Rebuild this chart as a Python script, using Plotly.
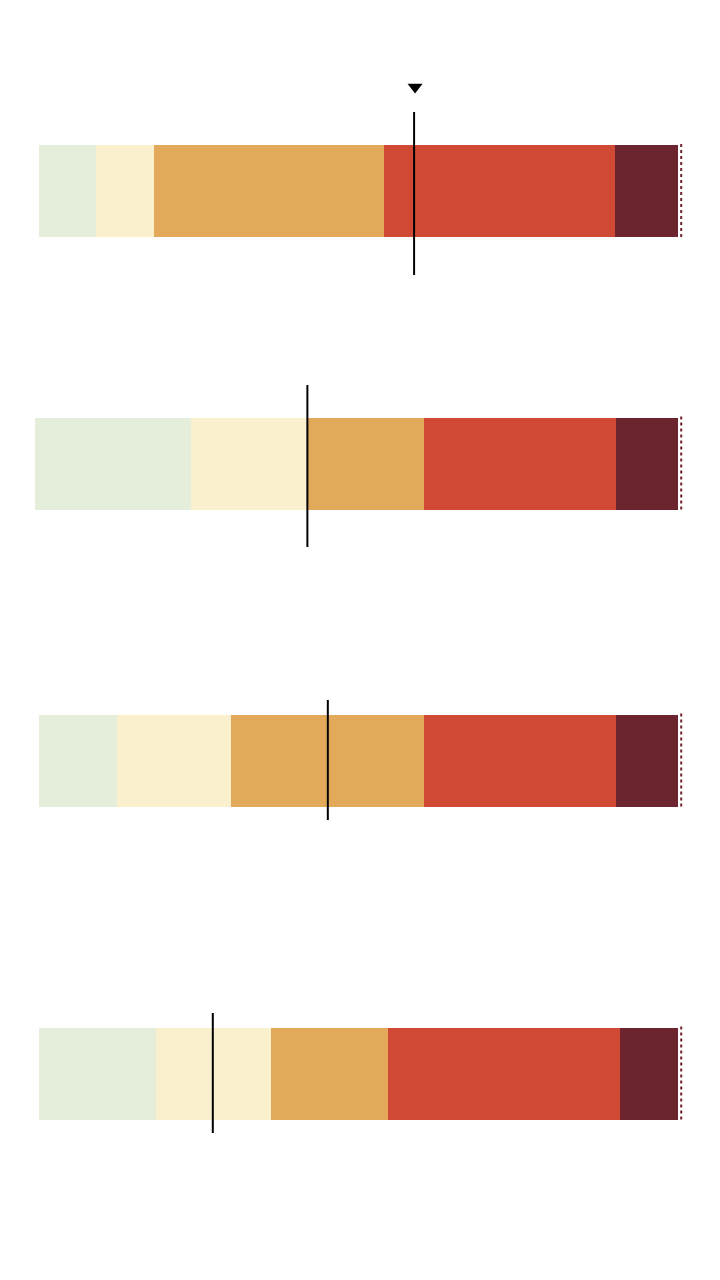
import numpy as np
import plotly.graph_objects as go

# Four stacked bars, five bands each (share of a 0-100 scale)
rows = ["A", "B", "C", "D"]
row_pos = [191, 463.5, 760.5, 1073.5]          # vertical centre of each bar (pixel-like layout units)
start = [0.0, -0.6, 0.0, 0.0]                   # left edge of each bar
green = [8.9, 24.4, 12.2, 18.3]
yellow = [9.1, 18.2, 17.8, 18.0]
orange = [36.0, 18.2, 30.2, 18.3]
red = [36.1, 30.1, 30.1, 36.3]
maroon = [9.9, 9.7, 9.7, 9.1]

# Marker (vertical line) value per bar
marker_val = [58.7, 42.0, 45.2, 27.2]
marker_top = [112, 385, 700, 1013]
marker_bot = [275, 547, 820, 1133]

series = [
    ("green", green, "#e5eddb"),
    ("yellow", yellow, "#faf0cd"),
    ("orange", orange, "#e2a95b"),
    ("red", red, "#cf4934"),
    ("maroon", maroon, "#6c252f"),
]

fig = go.Figure()
base = np.array(start, dtype=float)
for name, vals, col in series:
    fig.add_trace(go.Bar(
        y=row_pos, x=vals, base=base.copy(), orientation="h",
        width=92, marker=dict(color=col, line=dict(width=0)),
        name=name, showlegend=False, hoverinfo="skip",
    ))
    base = base + np.array(vals)

# dotted end line at 100
xs, ys = [], []
for yc in row_pos:
    xs += [100.5, 100.5, None]
    ys += [yc - 47, yc + 48, None]
fig.add_trace(go.Scatter(x=xs, y=ys, mode="lines",
                         line=dict(color="#6c252f", width=2, dash="dot"),
                         showlegend=False, hoverinfo="skip"))

# marker lines
mx, my = [], []
for v, t, b in zip(marker_val, marker_top, marker_bot):
    mx += [v, v, None]
    my += [t, b, None]
fig.add_trace(go.Scatter(x=mx, y=my, mode="lines",
                         line=dict(color="#000000", width=2),
                         showlegend=False, hoverinfo="skip"))

# triangle pointer above the first marker
fig.add_trace(go.Scatter(x=[marker_val[0] + 0.15], y=[87], mode="markers",
                         marker=dict(symbol="triangle-down", size=13, color="#000000"),
                         showlegend=False, hoverinfo="skip"))

fig.update_layout(
    width=720, height=1280,
    margin=dict(l=0, r=0, t=0, b=0),
    paper_bgcolor="white", plot_bgcolor="white",
    barmode="overlay", bargap=0,
    xaxis=dict(range=[-6.10, 106.57], visible=False, fixedrange=True),
    yaxis=dict(range=[1280, 0], visible=False, fixedrange=True),
)

fig.write_html("out.html")
